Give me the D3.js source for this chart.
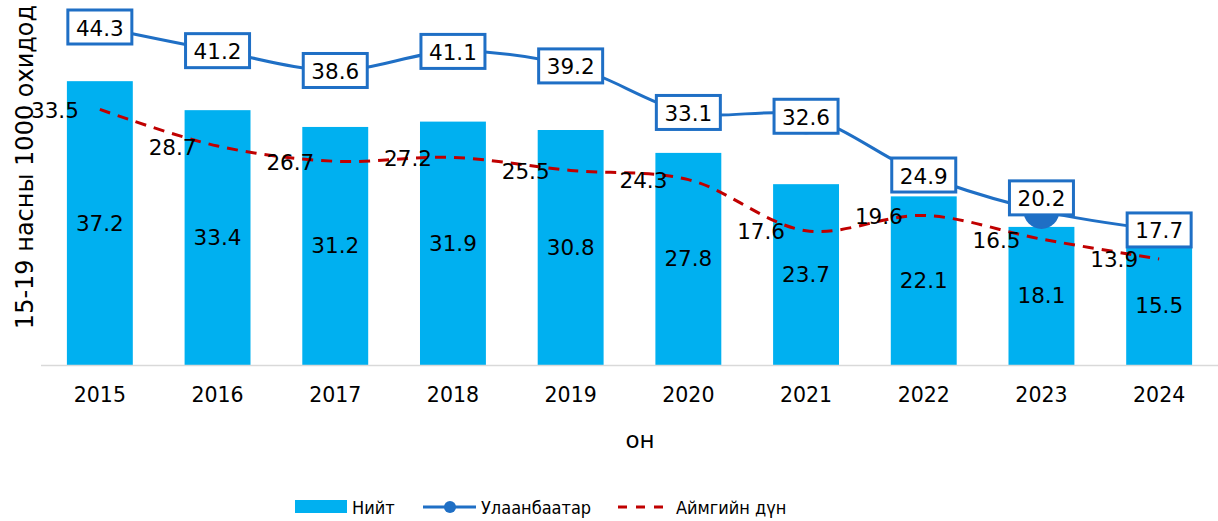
<!DOCTYPE html>
<html>
<head>
<meta charset="utf-8">
<script src="https://cdn.jsdelivr.net/npm/d3@7"></script>
<style>
  body { margin: 0; background: #fff; }
  text { font-family: "DejaVu Sans", sans-serif; fill: #000; }
  .legend text { font-family: "DejaVu Sans Condensed", "DejaVu Sans", sans-serif; font-stretch: condensed; }
</style>
</head>
<body>
<svg id="chart" width="1218" height="521"></svg>
<script>
// өгөгдөл
const years = ["2015", "2016", "2017", "2018", "2019", "2020", "2021", "2022", "2023", "2024"];
const total = [37.2, 33.4, 31.2, 31.9, 30.8, 27.8, 23.7, 22.1, 18.1, 15.5];      // Нийт
const ulaanbaatar = [44.3, 41.2, 38.6, 41.1, 39.2, 33.1, 32.6, 24.9, 20.2, 17.7];
const aimag = [33.5, 28.7, 26.7, 27.2, 25.5, 24.3, 17.6, 19.6, 16.5, 13.9];   // Аймгийн дүн
const seriesNames = ["Нийт", "Улаанбаатар", "Аймгийн дүн"];

const svg = d3.select('#chart');
const barColor = '#00B0F0', ubColor = '#1F6FC5', redColor = '#C00000';
const numSize = '21.5px';

const x = d3.scaleBand().domain(years).range([41, 1218]).paddingInner(0.44).paddingOuter(0.22);
const y = d3.scaleLinear().domain([0, 44.3]).range([365, 27]);
const cx = d => x(d) + x.bandwidth() / 2;

// bars
svg.append('g').selectAll('rect')
    .data(years)
    .enter().append('rect')
    .attr('x', d => x(d))
    .attr('y', (d, i) => y(total[i]))
    .attr('width', x.bandwidth())
    .attr('height', (d, i) => y(0) - y(total[i]))
    .attr('fill', barColor);

// axis baseline
svg.append('line')
    .attr('x1', 41).attr('x2', 1218)
    .attr('y1', y(0) + 0.5).attr('y2', y(0) + 0.5)
    .attr('stroke', '#d9d9d9').attr('stroke-width', 1.5);

const xAxis = svg.append('g').attr('transform', `translate(0,${y(0)})`)
    .call(d3.axisBottom(x).tickSize(0).tickPadding(22));
xAxis.select('.domain').remove();
xAxis.selectAll('text').style('font-size', '20.5px').style('font-family', '"DejaVu Sans", sans-serif').attr('fill', '#000');

// bar labels
svg.append('g').selectAll('text')
    .data(years)
    .enter().append('text')
    .attr('x', d => cx(d))
    .attr('y', (d, i) => (y(total[i]) + y(0)) / 2)
    .attr('text-anchor', 'middle')
    .attr('dominant-baseline', 'central')
    .style('font-size', numSize)
    .text((d, i) => total[i]);

// Аймгийн дүн - dashed line
const redLine = d3.line().x((d, i) => cx(years[i])).y(d => y(d)).curve(d3.curveCatmullRom.alpha(0.5));
svg.append('path')
    .attr('d', redLine(aimag))
    .attr('fill', 'none')
    .attr('stroke', redColor)
    .attr('stroke-width', 3)
    .attr('stroke-dasharray', '11,8');

svg.append('g').selectAll('text')
    .data(aimag)
    .enter().append('text')
    .attr('x', (d, i) => cx(years[i]) - 21)
    .attr('y', d => y(d) + 1)
    .attr('text-anchor', 'end')
    .attr('dominant-baseline', 'central')
    .style('font-size', numSize)
    .text(d => d);

// Улаанбаатар line
const ubLine = d3.line().x((d, i) => cx(years[i])).y(d => y(d)).curve(d3.curveCatmullRom.alpha(0.5));
svg.append('path')
    .attr('d', ubLine(ulaanbaatar))
    .attr('fill', 'none')
    .attr('stroke', ubColor)
    .attr('stroke-width', 3);

svg.append('g').selectAll('circle')
    .data(ulaanbaatar)
    .enter().append('circle')
    .attr('cx', (d, i) => cx(years[i]))
    .attr('cy', d => y(d))
    .attr('r', 18)
    .attr('fill', ubColor);

// boxed labels
const ubLabels = svg.append('g').selectAll('g')
    .data(ulaanbaatar)
    .enter().append('g')
    .attr('transform', (d, i) => {
        let dy = i === 8 ? -13 : 0; // давхцлаас зайлсхийх
        return `translate(${cx(years[i])},${y(d) + dy})`;
    });
ubLabels.append('rect')
    .attr('x', -32).attr('y', -17)
    .attr('width', 64).attr('height', 34)
    .attr('fill', '#fff')
    .attr('stroke', ubColor)
    .attr('stroke-width', 3);
ubLabels.append('text')
    .attr('text-anchor', 'middle')
    .attr('dominant-baseline', 'central')
    .attr('y', 1)
    .style('font-size', numSize)
    .text(d => d);

// axis titles
svg.append('text')
    .attr('transform', 'translate(25,167) rotate(-90)')
    .attr('text-anchor', 'middle')
    .attr('dominant-baseline', 'central')
    .style('font-size', '24px')
    .text('15-19 насны 1000 охидод');

svg.append('text')
    .attr('x', 640).attr('y', 440)
    .attr('text-anchor', 'middle')
    .attr('dominant-baseline', 'central')
    .style('font-size', '23px')
    .text('он');

// legend
const leg = svg.append('g').attr('class', 'legend').attr('transform', 'translate(0,507)');
leg.append('rect').attr('x', 295).attr('y', -7).attr('width', 52).attr('height', 13).attr('fill', barColor);
leg.append('text').attr('x', 352).attr('y', 0).attr('dominant-baseline', 'central').style('font-size', '18px').text(seriesNames[0]);

leg.append('line').attr('x1', 423).attr('x2', 476).attr('y1', 0).attr('y2', 0).attr('stroke', ubColor).attr('stroke-width', 3);
leg.append('circle').attr('cx', 450).attr('cy', 0).attr('r', 6).attr('fill', ubColor);
leg.append('text').attr('x', 481).attr('y', 0).attr('dominant-baseline', 'central').style('font-size', '18px').text(seriesNames[1]);

leg.append('line').attr('x1', 618).attr('x2', 663).attr('y1', 0).attr('y2', 0).attr('stroke', redColor).attr('stroke-width', 3).attr('stroke-dasharray', '9,9');
leg.append('text').attr('x', 676).attr('y', 0).attr('dominant-baseline', 'central').style('font-size', '18px').text(seriesNames[2]);
</script>
</body>
</html>
